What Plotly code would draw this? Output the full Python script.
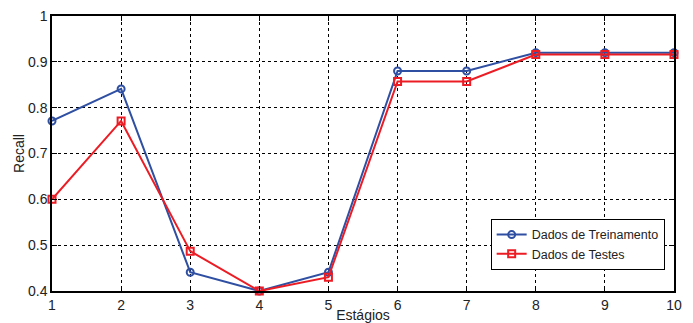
import plotly.graph_objects as go

estagios = [1, 2, 3, 4, 5, 6, 7, 8, 9, 10]
treinamento = [0.771, 0.841, 0.441, 0.400, 0.441, 0.880, 0.880, 0.920, 0.920, 0.920]
testes = [0.600, 0.771, 0.487, 0.400, 0.430, 0.857, 0.857, 0.916, 0.916, 0.916]
yticks = [0.4, 0.5, 0.6, 0.7, 0.8, 0.9, 1]
ytick_text = ["0.4", "0.5", "0.6", "0.7", "0.8", "0.9", "1"]

fig = go.Figure()
fig.add_trace(go.Scatter(
    x=estagios, y=treinamento, mode="lines+markers", name="Dados de Treinamento",
    line=dict(color="#2f4fa2", width=2),
    marker=dict(symbol="circle-open", size=7, color="#2f4fa2", line=dict(width=2)),
    cliponaxis=False,
))
fig.add_trace(go.Scatter(
    x=estagios, y=testes, mode="lines+markers", name="Dados de Testes",
    line=dict(color="#ec1c24", width=2),
    marker=dict(symbol="square-open", size=7, color="#ec1c24", line=dict(width=2)),
    cliponaxis=False,
))

axis_common = dict(
    showline=True, linecolor="black", linewidth=1.5, mirror="ticks",
    ticks="inside", ticklen=5, tickcolor="black",
    showgrid=True, gridcolor="black", griddash="dot", gridwidth=1,
    zeroline=False, tickfont=dict(size=14, color="#222"), automargin=False,
)

fig.update_xaxes(range=[1, 10], tickvals=estagios,
                 title=dict(text="Estágios", font=dict(size=14, color="#222"), standoff=0), **axis_common)
fig.update_yaxes(range=[0.4, 1], tickvals=yticks, ticktext=ytick_text,
                 title=dict(text="Recall", font=dict(size=14, color="#222"), standoff=0), **axis_common)

fig.update_layout(
    width=693, height=323, autosize=False,
    margin=dict(l=52, r=19, t=16, b=32),
    paper_bgcolor="white", plot_bgcolor="white",
    font=dict(family="Liberation Sans, Arial, sans-serif", size=14, color="#222"),
    legend=dict(x=0.985, y=0.262, xanchor="right", yanchor="top",
                bgcolor="white", bordercolor="black", borderwidth=1,
                font=dict(size=12.5), tracegroupgap=0, itemwidth=30),
    showlegend=True,
)

fig.write_html("out.html", config=dict(displayModeBar=False, responsive=False),
               post_script="document.body.style.margin='0';document.body.style.overflow='hidden';")
